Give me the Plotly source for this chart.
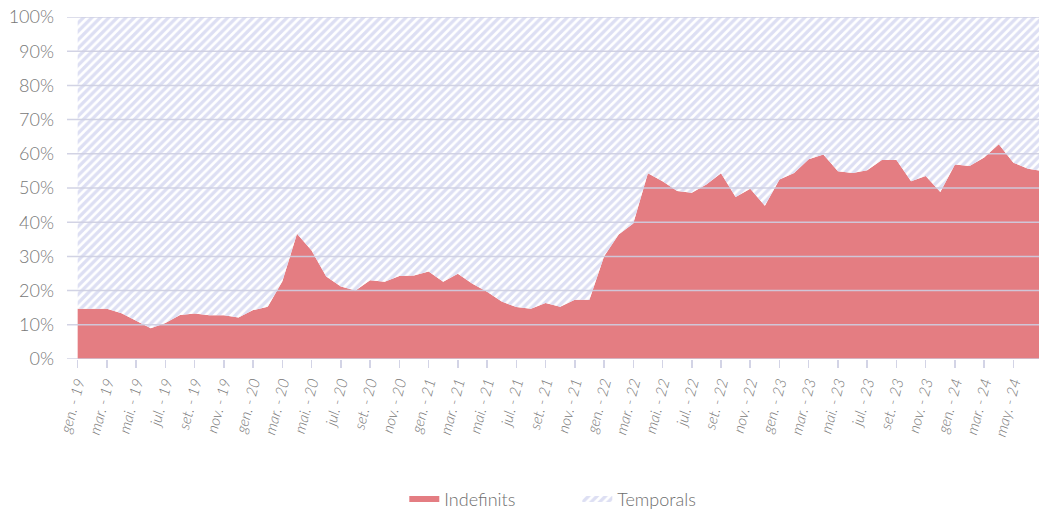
import plotly.graph_objects as go

months = ["gen.", "feb.", "mar.", "abr.", "mai.", "jun.", "jul.", "ago.", "set.", "oct.", "nov.", "des."]
years = ["19", "20", "21", "22", "23", "24"]

# Monthly share of indefinite contracts (%), gen.-19 .. jul.-24
indefinits = [
    14.7, 14.7, 14.7, 13.4, 11.2, 9.0, 10.5, 12.9, 13.3, 12.8, 12.8, 12.1,
    14.3, 15.3, 22.7, 36.6, 31.7, 24.1, 21.2, 20.0, 23.0, 22.6, 24.3, 24.4,
    25.6, 22.6, 24.9, 22.0, 19.7, 16.8, 15.2, 14.7, 16.4, 15.3, 17.3, 17.3,
    30.0, 36.4, 39.6, 54.3, 52.0, 49.1, 48.6, 51.0, 54.3, 47.4, 49.8, 44.8,
    52.5, 54.4, 58.4, 59.8, 54.9, 54.4, 55.2, 58.2, 58.2, 52.0, 53.5, 48.8,
    56.9, 56.4, 58.9, 62.8, 57.4, 55.6, 55.0,
]
temporals = [round(100 - v, 1) for v in indefinits]

x_idx = list(range(len(indefinits)))
labels = []
for i in x_idx:
    y = years[i // 12]
    m = months[i % 12]
    if i == 64:
        m = "may."
    labels.append(f"{m} - {y}")

tick_vals = x_idx[0:65:2]
tick_text = [labels[i] for i in tick_vals]

RED = "#e47d82"
LAV = "#bcbfe8"
GRID = "rgba(205,206,225,0.9)"
TXT = "#777777"
FONT = "Lato"

fig = go.Figure()
fig.add_trace(go.Scatter(
    x=x_idx, y=indefinits, name="Indefinits", stackgroup="one",
    mode="none", fillcolor=RED, hoverinfo="skip",
))
fig.add_trace(go.Scatter(
    x=x_idx, y=temporals, name="Temporals", stackgroup="one",
    mode="none", fillcolor="rgba(0,0,0,0)", hoverinfo="skip",
    fillpattern=dict(shape="/", fgcolor=LAV, bgcolor="white", size=6, solidity=0.55),
))

for v in range(0, 101, 10):
    fig.add_shape(type="line", xref="paper", yref="y", x0=0, x1=1, y0=v, y1=v,
                  line=dict(color=GRID, width=1.5), layer="above")

fig.update_layout(
    width=1039, height=511,
    margin=dict(l=67, r=0, t=17, b=152, autoexpand=False),
    paper_bgcolor="white", plot_bgcolor="white",
    font=dict(family=FONT, color=TXT),
    showlegend=True,
    legend=dict(orientation="h", x=0.525, xanchor="center", y=-0.41, yanchor="middle",
                font=dict(size=18, color="#6e6e6e", family=FONT, weight=300),
                entrywidth=128, traceorder="normal"),
    xaxis=dict(
        range=[-0.73, 65.75], tickmode="array", tickvals=tick_vals, ticktext=tick_text,
        tickangle=-75, tickfont=dict(size=15, color=TXT, family=FONT, style="italic", weight=300),
        ticks="outside", ticklen=8, tickwidth=1.5, tickcolor="#d3d4e6",
        showgrid=False, zeroline=False, showline=False, automargin=False,
    ),
    yaxis=dict(
        range=[0, 100], tickvals=list(range(0, 101, 10)),
        ticktext=[f"{v}%" for v in range(0, 101, 10)],
        tickfont=dict(size=18, color=TXT, family=FONT, weight=300),
        showgrid=False, zeroline=False, showline=False, ticks="",
        ticklabelstandoff=12, automargin=False,
    ),
)

fig.write_html("out.html", config={"displayModeBar": False, "staticPlot": True},
               post_script="document.body.style.margin='0';document.body.style.overflow='hidden';")
